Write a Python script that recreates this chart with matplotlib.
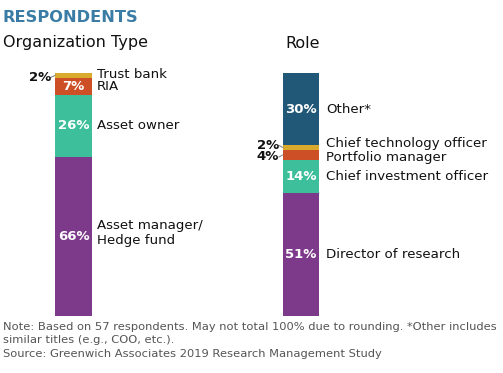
import matplotlib
matplotlib.use("Agg")
import matplotlib.pyplot as plt
import numpy as np

plt.rcParams['font.family'] = ['DejaVu Sans']

# Data (bottom to top)
org_labels = ["Asset manager/\nHedge fund", "Asset owner", "RIA", "Trust bank"]
org_values = [66, 26, 7, 2]
role_labels = ["Director of research", "Chief investment officer", "Portfolio manager",
               "Chief technology officer", "Other*"]
role_values = [51, 14, 4, 2, 30]

org_colors = ["#7d3a8a", "#3dbf9c", "#cc4f25", "#d9aa2c"]
role_colors = ["#7d3a8a", "#3dbf9c", "#cc4f25", "#d9aa2c", "#215877"]

W, H = 503, 373
fig = plt.figure(figsize=(W / 100, H / 100), dpi=100)
fig.patch.set_facecolor("white")

bar_top_px, bar_bot_px = 73, 316
total = 101
ax = fig.add_axes([0, (H - bar_bot_px) / H, 1, (bar_bot_px - bar_top_px) / H])
ax.set_xlim(0, W)
ax.set_ylim(0, total)
ax.axis("off")

def fy(y):
    return 1 - y / H

fig.text(3 / W, fy(18), "RESPONDENTS", color="#3a7ca5", fontsize=11.7,
         fontweight="bold", va="center", ha="left")
fig.text(3 / W, fy(43), "Organization Type", color="#111111", fontsize=11.5,
         va="center", ha="left")
fig.text(285 / W, fy(43), "Role", color="#111111", fontsize=11.5,
         va="center", ha="left")

def draw_bar(xc, width, values, labels, colors, label_x, small_offsets, small_label_offsets):
    bottoms = np.concatenate([[0], np.cumsum(values)[:-1]])
    ax.bar([xc] * len(values), values, width=width, bottom=bottoms, color=colors,
           edgecolor="none", linewidth=0)
    for i, (v, b, lab) in enumerate(zip(values, bottoms, labels)):
        mid = b + v / 2
        if v >= 5:
            ax.text(xc, mid, f"{v}%", color="white", fontsize=9.5, fontweight="bold",
                    ha="center", va="center")
        else:
            off = small_offsets.get(i, 0)
            ax.text(xc - width / 2 - 4, mid + off, f"{v}%", color="#111111",
                    fontsize=9.5, fontweight="bold", ha="right", va="center")
            ax.plot([xc - width / 2 - 4, xc - width / 2], [mid + off, mid],
                    color="#888888", lw=0.8)
        loff = small_label_offsets.get(i, 0)
        ax.text(label_x, mid + loff, lab, color="#111111", fontsize=9.6,
                ha="left", va="center", linespacing=1.2)

draw_bar(73.5, 37, org_values, org_labels, org_colors, 97, {3: -0.8}, {3: 0.5, 0: 1.6})
draw_bar(301, 36, role_values, role_labels, role_colors, 326,
         {3: 0.9, 2: -0.9}, {3: 1.5, 2: -1.0})

note = ("Note: Based on 57 respondents. May not total 100% due to rounding. *Other includes\n"
        "similar titles (e.g., COO, etc.).\n"
        "Source: Greenwich Associates 2019 Research Management Study")
fig.text(3 / W, fy(321.5), note, color="#555555", fontsize=8.25, ha="left", va="top",
         linespacing=1.45)

fig.savefig("out.png", dpi=100)
